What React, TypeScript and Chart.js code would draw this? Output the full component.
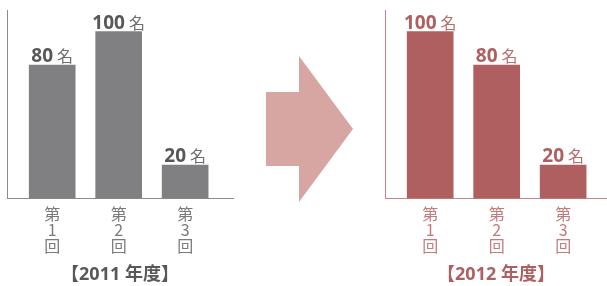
import React, { useEffect, useRef } from "react";
import { Chart, registerables } from "chart.js";

Chart.register(...registerables);

// ---- data ----
const categoryPositions = [1, 2, 3];
const categoryLabels = [
  ["第", "1", "回"],
  ["第", "2", "回"],
  ["第", "3", "回"],
];
const values2011 = [80, 100, 20];
const values2012 = [100, 80, 20];
const title2011 = "【2011 年度】";
const title2012 = "【2012 年度】";
const unitLabel = "名";

const NUM_FONT = "bold 19px 'Open Sans', 'Noto Sans CJK JP', sans-serif";
const UNIT_FONT = "16px 'Noto Sans CJK JP', sans-serif";

type Theme = {
  bar: string;
  axis: string;
  num: string;
  unit: string;
  tick: string;
  title: string;
};

const grayTheme: Theme = {
  bar: "#808083",
  axis: "#8c8c8e",
  num: "#58585a",
  unit: "#6e6e70",
  tick: "#7a7a7c",
  title: "#58585a",
};

const redTheme: Theme = {
  bar: "#b05f60",
  axis: "#c98586",
  num: "#b05f60",
  unit: "#b86c6d",
  tick: "#c27c7d",
  title: "#b05f60",
};

function BarPanel(props: {
  values: number[];
  title: string;
  theme: Theme;
  width: number;
  xMax: number;
  padRight: number;
}) {
  const ref = useRef<HTMLCanvasElement | null>(null);
  useEffect(() => {
    if (!ref.current) return;
    const { values, title, theme } = props;
    const labelPlugin = {
      id: "valueLabels",
      afterDatasetsDraw(chart: any) {
        const ctx = chart.ctx;
        const meta = chart.getDatasetMeta(0);
        ctx.save();
        meta.data.forEach((bar: any, i: number) => {
          const num = String(values[i]);
          ctx.font = NUM_FONT;
          const w1 = ctx.measureText(num).width;
          ctx.font = UNIT_FONT;
          const w2 = ctx.measureText(unitLabel).width;
          const gap = 4;
          const total = w1 + gap + w2;
          const x0 = bar.x - total / 2;
          const y = bar.y - 3;
          ctx.textBaseline = "alphabetic";
          ctx.textAlign = "left";
          ctx.font = NUM_FONT;
          ctx.fillStyle = theme.num;
          ctx.fillText(num, x0, y);
          ctx.font = UNIT_FONT;
          ctx.fillStyle = theme.unit;
          ctx.fillText(unitLabel, x0 + w1 + gap, y);
        });
        ctx.restore();
      },
    };
    const chart = new Chart(ref.current, {
      type: "bar",
      data: {
        datasets: [
          {
            data: values.map((v, i) => ({ x: categoryPositions[i], y: v })),
            backgroundColor: theme.bar,
            barThickness: 46,
            borderWidth: 0,
          },
        ],
      },
      options: {
        responsive: false,
        animation: false,
        events: [],
        layout: { padding: { left: 7, top: 10, right: props.padRight, bottom: 0 } },
        plugins: { legend: { display: false }, tooltip: { enabled: false } },
        scales: {
          x: {
            type: "linear",
            offset: false,
            min: 0.32,
            max: props.xMax,
            afterBuildTicks: (scale: any) => {
              scale.ticks = categoryPositions.map((v) => ({ value: v }));
            },
            grid: { display: false, drawTicks: false, offset: false },
            border: { display: true, color: theme.axis, width: 1 },
            ticks: {
              padding: 8,
              color: theme.tick,
              maxRotation: 0,
              autoSkip: false,
              font: { family: "'Noto Sans CJK JP', sans-serif", size: 16, lineHeight: 1.0 },
              callback: (v: any) => categoryLabels[categoryPositions.indexOf(Number(v))] ?? "",
            },
            title: {
              display: true,
              text: title,
              color: theme.title,
              padding: { top: 2, bottom: 0 },
              font: { family: "'Open Sans', 'Noto Sans CJK JP', sans-serif", size: 18, weight: "bold", lineHeight: 1.2 },
            },
          },
          y: {
            min: 0,
            max: 113,
            grid: { display: false, drawTicks: false },
            border: { display: true, color: theme.axis, width: 1 },
            ticks: { display: false },
          },
        },
      },
      plugins: [labelPlugin],
    } as any);
    return () => chart.destroy();
  }, []);
  return <canvas ref={ref} width={props.width} height={286} style={{ display: "block" }} />;
}

export default function App() {
  return (
    <div style={{ position: "fixed", left: 0, top: 0, width: 607, height: 286, background: "#fff", overflow: "hidden" }}>
      <div style={{ position: "absolute", left: 0, top: 0 }}>
        <BarPanel values={values2011} title={title2011} theme={grayTheme} width={240} xMax={3.72} padRight={7} />
      </div>
      <svg style={{ position: "absolute", left: 0, top: 0 }} width={607} height={286}>
        <polygon points="266,92 299,92 299,56 353,129 299,202 299,166 266,166" fill="#d7a6a2" />
      </svg>
      <div style={{ position: "absolute", left: 378, top: 0 }}>
        <BarPanel values={values2012} title={title2012} theme={redTheme} width={229} xMax={3.66} padRight={0} />
      </div>
    </div>
  );
}
